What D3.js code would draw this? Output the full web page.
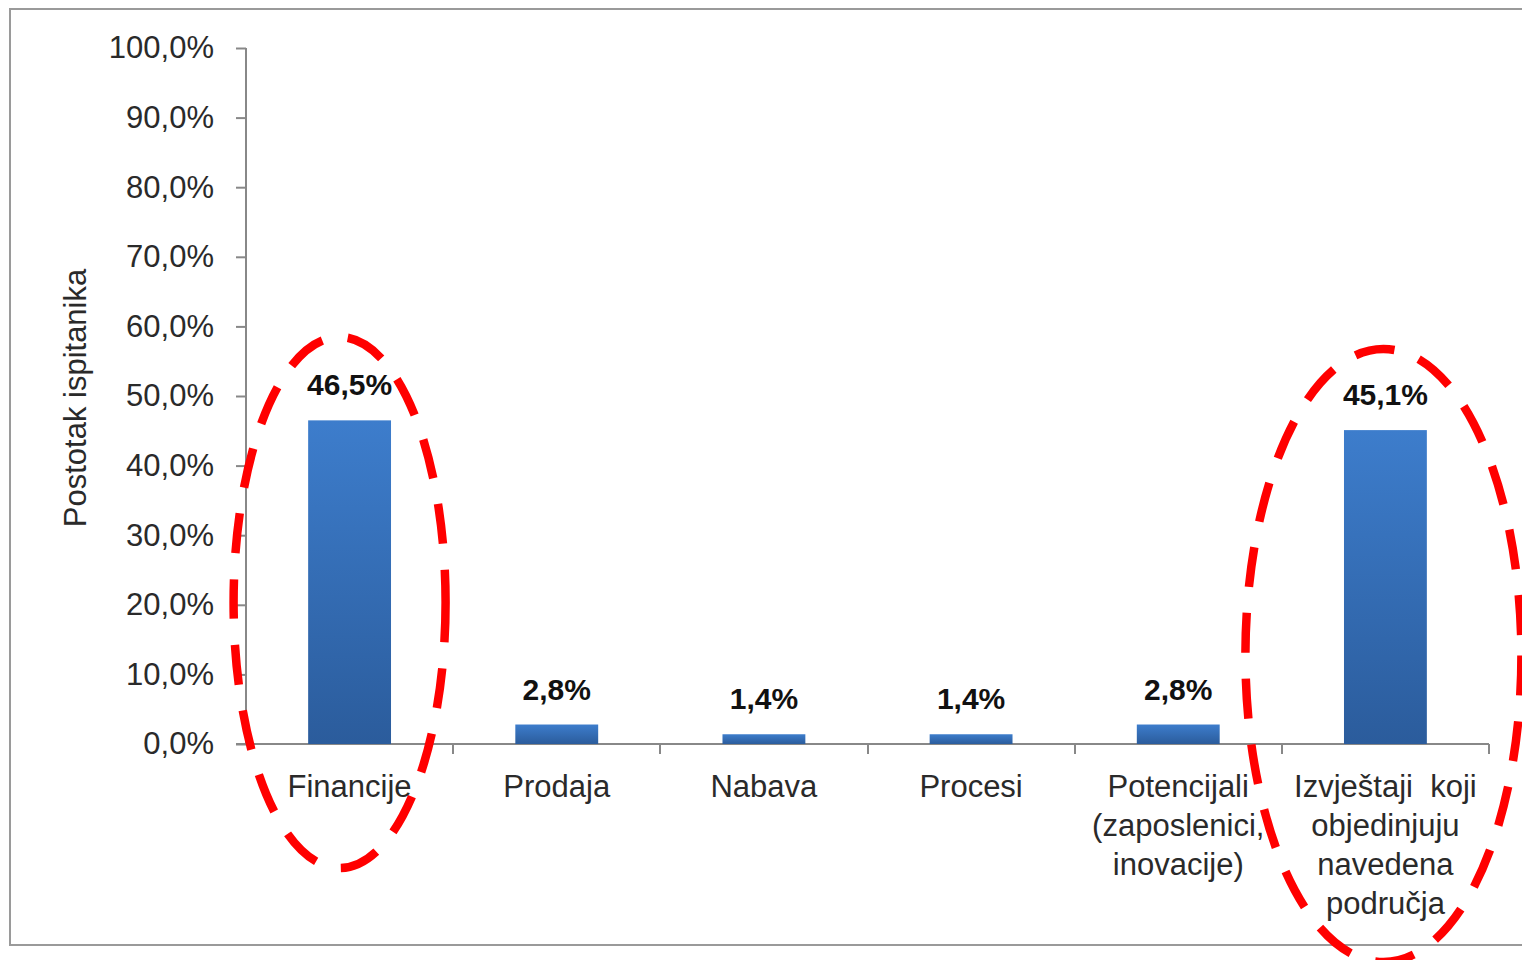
<!DOCTYPE html>
<html>
<head>
<meta charset="utf-8">
<script src="https://cdn.jsdelivr.net/npm/d3@7"></script>
<style>
  html, body { margin: 0; padding: 0; background: #fff; }
  svg { display: block; }
  text { font-family: "Liberation Sans", Arial, sans-serif; }
</style>
</head>
<body>
<svg id="chart" width="1522" height="960"></svg>
<script>
// ---- data ----
const categories = [
  ["Financije"],
  ["Prodaja"],
  ["Nabava"],
  ["Procesi"],
  ["Potencijali", "(zaposlenici,", "inovacije)"],
  ["Izvještaji  koji", "objedinjuju", "navedena", "područja"]
];
const values = [46.5, 2.8, 1.4, 1.4, 2.8, 45.1];
const valueLabels = ["46,5%", "2,8%", "1,4%", "1,4%", "2,8%", "45,1%"];
const yTicks = [0, 10, 20, 30, 40, 50, 60, 70, 80, 90, 100];
const yTickLabels = ["0,0%", "10,0%", "20,0%", "30,0%", "40,0%", "50,0%", "60,0%", "70,0%", "80,0%", "90,0%", "100,0%"];
const yTitle = "Postotak ispitanika";
const highlighted = [0, 5];

// ---- drawing ----
const svg = d3.select("#chart");
const keys = categories.map((c, i) => i);

const x = d3.scaleBand().domain(keys).range([246, 1489]).paddingInner(0.6).paddingOuter(0.3);
const y = d3.scaleLinear().domain([0, 100]).range([744, 48]);

// outer frame
svg.append("path")
  .attr("d", "M1522,9 H10 V945 H1522")
  .attr("fill", "none").attr("stroke", "#9a9a9a").attr("stroke-width", 2);

// gradient
const defs = svg.append("defs");
const grad = defs.append("linearGradient").attr("id", "barGrad")
  .attr("x1", 0).attr("y1", 0).attr("x2", 0).attr("y2", 1);
grad.append("stop").attr("offset", "0%").attr("stop-color", "#3d7dcc");
grad.append("stop").attr("offset", "100%").attr("stop-color", "#2b5c9c");

// y axis
const yAxis = d3.axisLeft(y).tickValues(yTicks)
  .tickFormat((d, i) => yTickLabels[i]).tickSize(10).tickPadding(22);
const gy = svg.append("g").attr("transform", "translate(246,0)").call(yAxis);
gy.select(".domain").attr("stroke", "#888").attr("stroke-width", 2).attr("d", "M0,48V744");
gy.selectAll(".tick line").attr("stroke", "#888").attr("stroke-width", 2);
gy.selectAll(".tick text").attr("font-size", 31).attr("fill", "#2a2a2a")
  .attr("font-family", "'Liberation Sans', Arial, sans-serif");

// x axis line and ticks at category boundaries
const step = x.step();
svg.append("line").attr("x1", 236).attr("x2", 1489).attr("y1", y(0)).attr("y2", y(0))
  .attr("stroke", "#888").attr("stroke-width", 2);
svg.append("g").selectAll("line").data(keys).join("line")
  .attr("x1", i => Math.round(x(i) + x.bandwidth() / 2 + step / 2))
  .attr("x2", i => Math.round(x(i) + x.bandwidth() / 2 + step / 2))
  .attr("y1", y(0)).attr("y2", y(0) + 10)
  .attr("stroke", "#888").attr("stroke-width", 2);

// bars
svg.append("g").selectAll("rect").data(values).join("rect")
  .attr("x", (d, i) => x(i))
  .attr("width", x.bandwidth())
  .attr("y", d => y(d))
  .attr("height", d => y(0) - y(d))
  .attr("fill", "url(#barGrad)");

// value labels
svg.append("g").selectAll("text").data(values).join("text")
  .attr("x", (d, i) => x(i) + x.bandwidth() / 2)
  .attr("y", d => y(d) - 25)
  .attr("text-anchor", "middle")
  .attr("font-size", 30).attr("font-weight", "bold").attr("fill", "#111")
  .text((d, i) => valueLabels[i]);

// category labels
const catG = svg.append("g");
categories.forEach((lines, i) => {
  const t = catG.append("text")
    .attr("x", x(i) + x.bandwidth() / 2)
    .attr("y", 797)
    .attr("text-anchor", "middle")
    .attr("font-size", 31).attr("fill", "#2a2a2a")
    .style("white-space", "pre");
  lines.forEach((ln, j) => {
    t.append("tspan").attr("x", x(i) + x.bandwidth() / 2).attr("y", 797 + j * 39).text(ln);
  });
});

// y title
svg.append("text")
  .attr("transform", "translate(86,398) rotate(-90)")
  .attr("text-anchor", "middle")
  .attr("font-size", 31).attr("fill", "#2a2a2a")
  .text(yTitle);

// red dashed highlight ellipses
const ellSpec = { 0: { dx: -10, rx: 106, top: 337, bottom: 868 }, 5: { dx: -2, rx: 138, top: 349, bottom: 962 } };
svg.append("g").selectAll("ellipse").data(highlighted).join("ellipse")
  .attr("cx", i => x(i) + x.bandwidth() / 2 + ellSpec[i].dx)
  .attr("cy", i => (ellSpec[i].top + ellSpec[i].bottom) / 2)
  .attr("rx", i => ellSpec[i].rx)
  .attr("ry", i => (ellSpec[i].bottom - ellSpec[i].top) / 2)
  .attr("fill", "none").attr("stroke", "#ff0000").attr("stroke-width", 8.5)
  .attr("stroke-dasharray", "40 26");
</script>
</body>
</html>
